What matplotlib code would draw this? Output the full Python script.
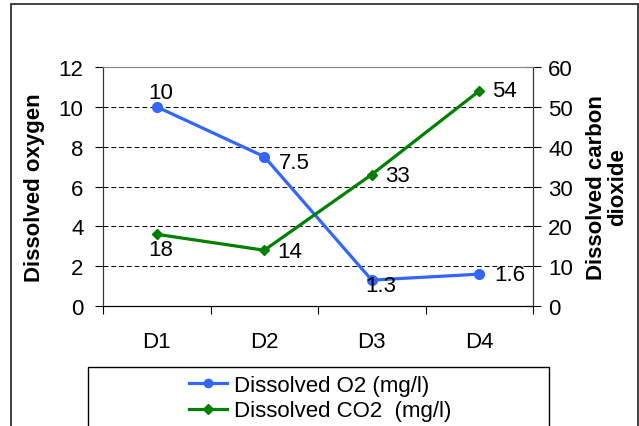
import matplotlib.pyplot as plt
from matplotlib.patches import Rectangle
from matplotlib.lines import Line2D

plt.rcParams['font.family'] = ['Liberation Sans', 'DejaVu Sans']
plt.rcParams['font.size'] = 16

# data
days = ['D1', 'D2', 'D3', 'D4']
o2 = [10, 7.5, 1.3, 1.6]
co2 = [18, 14, 33, 54]
o2_labels = ['10', '7.5', '1.3', '1.6']
co2_labels = ['18', '14', '33', '54']
# label offsets in pixels (dx, dy)
o2_off = [(4, 14), (15, -6), (9, -5), (15, 0)]
co2_off = [(4, -15), (13, -1), (13, -1), (13, 0)]

blue = '#3366ff'
green = '#008000'

fig = plt.figure(figsize=(6.39, 4.27), dpi=100)
W, H = 639, 427

# outer chart frame (bottom runs off the image)
fig.patches.append(Rectangle((11 / W, -0.05), (638 - 11) / W, 1.05 - 5 / H,
                             transform=fig.transFigure, fill=False,
                             edgecolor='#333333', lw=1.3))

ax = fig.add_axes([103 / W, 1 - 307 / H, (533 - 103) / W, (307 - 68) / H])
ax2 = ax.twinx()

x = list(range(len(days)))
ax.plot(x, o2, color=blue, lw=2.3, marker='o', ms=7, label='Dissolved O2 (mg/l)')
ax2.plot(x, co2, color=green, lw=2.3, marker='D', ms=5.5, label='Dissolved CO2  (mg/l)')

for i in x:
    ax.annotate(o2_labels[i], (i, o2[i]), xytext=o2_off[i], textcoords='offset pixels',
                ha='center' if o2_off[i][0] < 12 else 'left', va='center')
    ax2.annotate(co2_labels[i], (i, co2[i]), xytext=co2_off[i], textcoords='offset pixels',
                 ha='center' if co2_off[i][0] < 12 else 'left', va='center')

ax.set_xlim(-0.5, 3.5)
ax.set_ylim(0, 12)
ax2.set_ylim(0, 60)
ax.set_yticks(range(0, 13, 2))
ax2.set_yticks(range(0, 61, 10))

ax.set_xticks([-0.5, 0.5, 1.5, 2.5, 3.5])
ax.set_xticklabels([])
ax.set_xticks(x, minor=True)
ax.set_xticklabels(days, minor=True)
ax.tick_params(axis='x', which='major', direction='out', length=6, width=0.8)
ax.tick_params(axis='x', which='minor', length=0, pad=18)
ax.tick_params(axis='y', direction='out', length=6, width=0.8, pad=8)
ax2.tick_params(axis='y', direction='inout', length=12, width=0.8, pad=5)

ax.yaxis.grid(True, color='black', lw=0.7, linestyle=(0, (5, 3)))
ax.set_axisbelow(True)

for a in (ax, ax2):
    a.spines['top'].set_color('#888888')
    a.spines['left'].set_color('#333333')
    a.spines['right'].set_color('#333333')
    a.spines['bottom'].set_color('black')

ax.set_ylabel('Dissolved oxygen', fontweight='bold', va='center', ha='center')
ax.yaxis.set_label_coords(-0.16, 0.5)
ax2.set_ylabel('Dissolved carbon\ndioxide', fontweight='bold', rotation=90,
               va='center', ha='center', multialignment='center', linespacing=1.0)
ax2.yaxis.set_label_coords(1.172, 0.5)

# legend box at the bottom
fig.patches.append(Rectangle((88 / W, -0.05), (549 - 88) / W, 0.05 + 1 - 368 / H,
                             transform=fig.transFigure, fill=False,
                             edgecolor='black', lw=1))
handles = [Line2D([], [], color=blue, lw=2.3, marker='o', ms=6),
           Line2D([], [], color=green, lw=2.3, marker='D', ms=5)]
fig.legend(handles, ['Dissolved O2 (mg/l)', 'Dissolved CO2  (mg/l)'],
           loc='upper center', bbox_to_anchor=(320 / W, 1 - 376 / H),
           frameon=False, handlelength=1.7, handletextpad=0.3,
           labelspacing=0.2, borderpad=0, borderaxespad=0)

fig.savefig('out.png', dpi=100)
